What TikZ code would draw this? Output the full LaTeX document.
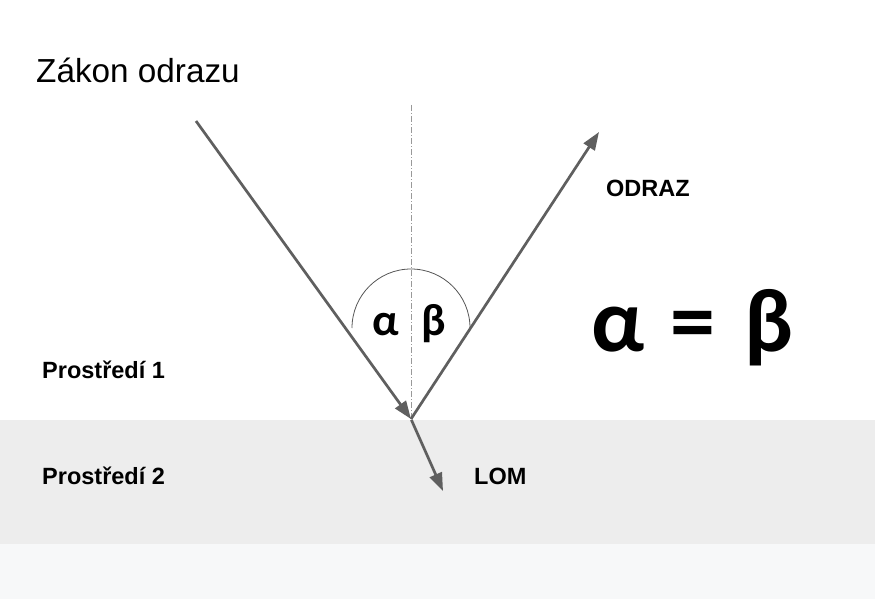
\documentclass[tikz,border=0pt]{standalone}
\usepackage{fontspec}
\setmainfont{Liberation Sans}
\newfontfamily\greekfont{Carlito}
\usetikzlibrary{arrows.meta}
\definecolor{raygray}{HTML}{5F5F5F}
\definecolor{bandgray}{HTML}{EDEDED}
\definecolor{footgray}{HTML}{F7F8F9}
\definecolor{normalgray}{HTML}{999999}
\definecolor{arcgray}{HTML}{555555}
\tikzset{
  ray/.style={draw=raygray, line width=2.7pt, -{Triangle[length=18pt,width=13pt]}},
  normalline/.style={draw=normalgray, line width=0.9pt, dash pattern=on 6pt off 2pt on 1pt off 2pt},
  anglearc/.style={draw=arcgray, line width=0.8pt},
  label/.style={anchor=base west, inner sep=0pt, font=\fontsize{23.5}{28}\selectfont\bfseries},
  greeksmall/.style={anchor=base west, inner sep=0pt, font=\greekfont\fontsize{45}{50}\selectfont\bfseries},
  greekbig/.style={anchor=base west, inner sep=0pt, font=\greekfont\fontsize{90}{96}\selectfont\bfseries},
}
\begin{document}
\begin{tikzpicture}[x=1pt,y=-1pt]
\useasboundingbox (0,0) rectangle (875,599);
\fill[white] (0,0) rectangle (875,420);
\fill[bandgray] (0,420) rectangle (875,544);
\fill[footgray] (0,544) rectangle (875,599);
\coordinate (src) at (196,121);
\coordinate (hit) at (411,419);
\coordinate (refl) at (599,132);
\coordinate (refr) at (443,491);
\coordinate (ntop) at (411,105);
\draw[normalline] (ntop) -- (hit);
\draw[anglearc] (352,328) arc[start angle=180, end angle=360, radius=59];
\draw[ray] (src) -- (hit);
\draw[ray] (hit) -- (refl);
\draw[ray, shorten <=1pt] (hit) -- (refr);
\node[anchor=base west, inner sep=0pt, font=\fontsize{33.3}{38}\selectfont] (title) at (36,83) {Zákon odrazu};
\node[label] (odraz) at (606,196) {ODRAZ};
\node[label] (p1) at (42,378) {Prostředí 1};
\node[label] (p2) at (42,484) {Prostředí 2};
\node[label] (lom) at (474,484) {LOM};
\node[greeksmall] (alpha) at (372,335) {α};
\node[greeksmall] (beta) at (421,335) {β};
\node[greekbig] (eq) at (591,351) {α\hspace{26pt}=\hspace{29pt}β};
\end{tikzpicture}
\end{document}
